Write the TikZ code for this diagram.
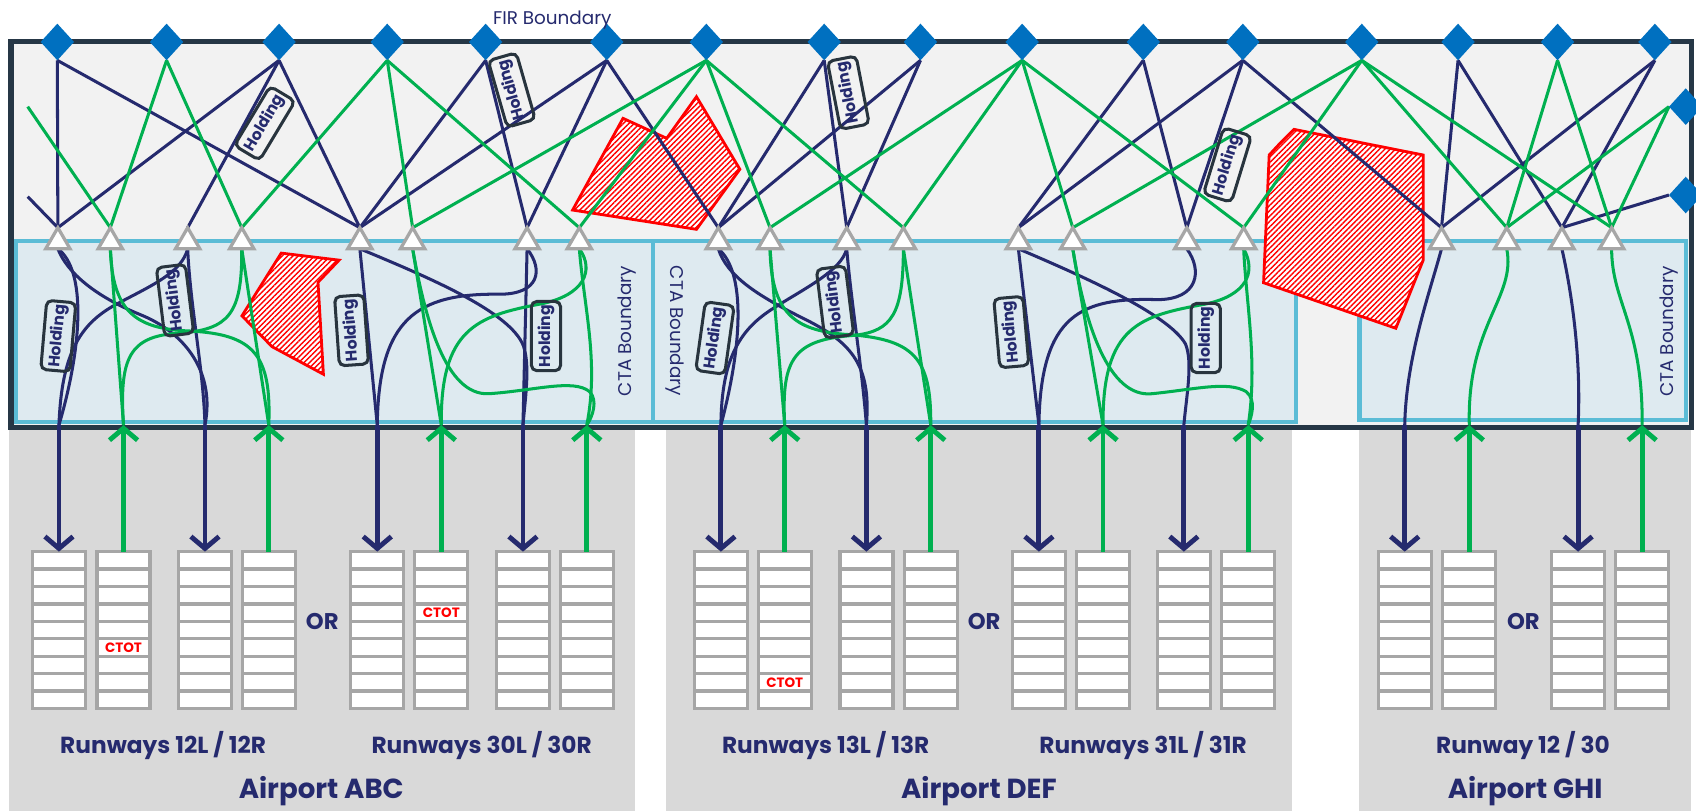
\documentclass[tikz,border=0pt]{standalone}
\usepackage{fontspec}
\setmainfont{Poppins}
\usetikzlibrary{shapes.geometric, arrows.meta, patterns.meta}
\definecolor{navy}{RGB}{37,42,110}
\definecolor{depgreen}{RGB}{0,176,80}
\definecolor{entryblue}{RGB}{0,112,192}
\definecolor{firfill}{RGB}{242,242,242}
\definecolor{firedge}{RGB}{38,55,70}
\definecolor{ctafill}{RGB}{222,234,240}
\definecolor{ctaedge}{RGB}{91,188,214}
\definecolor{panel}{RGB}{217,217,217}
\definecolor{qgray}{RGB}{166,166,166}
\definecolor{boxdark}{RGB}{40,52,62}
\begin{document}
\begin{tikzpicture}[x=1pt,y=-1pt,
  arrline/.style={draw=navy, line width=2.8pt},
  depline/.style={draw=depgreen, line width=2.8pt},
  entry/.style={diamond, fill=entryblue, minimum width=31pt, minimum height=34pt, inner sep=0pt},
  iaf/.style={regular polygon, regular polygon sides=3, minimum size=26pt, inner sep=0pt, draw=qgray, fill=white, line width=3pt},
  holdbox/.style={draw=boxdark, line width=2.8pt, rounded corners=5pt, minimum width=64pt, minimum height=27pt, inner sep=0pt, text=navy, font=\fontsize{14.5}{14.5}\selectfont\bfseries},
  queue/.style={rectangle, draw=qgray, fill=white, line width=3pt, minimum width=49pt, minimum height=145pt, inner sep=0pt, outer sep=0pt},
  arrN/.style={draw=navy, line width=4.5pt, -{Straight Barb[length=11pt, width=26pt]}},
  arrG/.style={draw=depgreen, line width=4.5pt, -{Straight Barb[length=11pt, width=26pt]}},
  hatch/.style={draw=red, line width=2.6pt, line join=miter, pattern={Lines[angle=45, distance=3.5pt, line width=1.3pt]}, pattern color=red},
  ctabox/.style={draw=ctaedge, line width=4pt, fill=ctafill},
  lbl/.style={text=navy, inner sep=0pt},
  rwy/.style={lbl, anchor=base, font=\fontsize{21.5}{21.5}\selectfont\bfseries},
  apt/.style={lbl, anchor=base, font=\fontsize{25.5}{25.5}\selectfont\bfseries},
  ortext/.style={lbl, font=\fontsize{21}{21}\selectfont\bfseries},
  ctalbl/.style={lbl, font=\fontsize{17}{17}\selectfont},
  ctot/.style={text=red, inner sep=0pt, font=\fontsize{12.5}{12.5}\selectfont\bfseries}
]
\useasboundingbox (0,0) rectangle (1568,750);
\fill[white] (0,0) rectangle (1568,750);

% airport panels
\fill[panel] (8,395) rectangle (587,750);
\fill[panel] (616,395) rectangle (1194.5,750);
\fill[panel] (1256.5,395) rectangle (1563,750);

% FIR and CTAs
\draw[firedge, line width=5pt, fill=firfill] (10,38.5) rectangle (1564,395);
\draw[ctabox] (14.5,223) rectangle (603.5,390);
\draw[ctabox] (603.5,223) rectangle (1198,390);
\draw[ctabox] (1257,223) rectangle (1559,388);

% restricted areas
\fill[white] (260,234) -- (313.5,240.5) -- (294,261) -- (299,346) -- (251.5,320.5) -- (223.7,292) -- cycle;
\draw[hatch] (260,234) -- (313.5,240.5) -- (294,261) -- (299,346) -- (251.5,320.5) -- (223.7,292) -- cycle;
\fill[white] (576,109.4) -- (616.4,127.9) -- (643.9,89.4) -- (684,156.5) -- (643.9,212) -- (529.4,194.2) -- cycle;
\draw[hatch] (576,109.4) -- (616.4,127.9) -- (643.9,89.4) -- (684,156.5) -- (643.9,212) -- (529.4,194.2) -- cycle;
\fill[white] (1196.3,119.6) -- (1315.8,143.3) -- (1315.8,240.4) -- (1290.5,303.5) -- (1168.2,261.4) -- (1173.4,143.3) -- (1182,134) -- cycle;
\draw[hatch] (1196.3,119.6) -- (1315.8,143.3) -- (1315.8,240.4) -- (1290.5,303.5) -- (1168.2,261.4) -- (1173.4,143.3) -- (1182,134) -- cycle;

% entry/exit points
\foreach \n/\x in {1/53, 2/154, 3/258, 4/358, 5/449, 6/561, 7/653, 8/762, 9/851, 10/945, 11/1057, 12/1149, 13/1259, 14/1348, 15/1440, 16/1530}
  \coordinate (D\n) at (\x,55.8);
\coordinate (R1) at (1543,98.6);
\coordinate (R2) at (1543,180.3);
\coordinate (L1) at (25.6,181.8);
\coordinate (L2) at (25.6,98.6);

% IAF triangles (positions)
\foreach \n/\x in {1/53.5, 2/102, 3/173.5, 4/223.5, 5/332.7, 6/381.5, 7/487.3, 8/535.6, 9/664.1, 10/711.9, 11/782.8, 12/835.2, 13/941.5, 14/991.8, 15/1097.2, 16/1149.8, 17/1332.7, 18/1393, 19/1444, 20/1490}
  \coordinate (T\n) at (\x,223.5);
\foreach \n in {1,...,20} {
  \coordinate (TA\n) at ([yshift=13pt]T\n);
  \coordinate (TB\n) at ([yshift=-6.5pt]T\n);
}

% stack centres and arrow ends
\foreach \n/\x in {1/54.5, 2/114.2, 3/189.5, 4/248.5, 5/348.8, 6/408, 7/483.5, 8/542.5, 9/666.5, 10/725.5, 11/801, 12/860.5, 13/960.5, 14/1019.8, 15/1094.5, 16/1154, 17/1298.7, 18/1358.4, 19/1459, 20/1518.2}
  \coordinate (B\n) at (\x,393);

% upper network: arrivals
\foreach \a/\b in {D1/TA1, D1/TA5, L1/TA1, D3/TA1, D3/TA3, D3/TA5, D5/TA5, D5/TA7, D6/TA5, D6/TA7, D6/TA9, D8/TA9, D8/TA11, D9/TA9, D9/TA11, D11/TA13, D11/TA15, D12/TA13, D12/TA15, D12/TA17, D14/TA17, D14/TA19, D16/TA17, D16/TA19, R2/TA19}
  \draw[arrline] (\a) -- (\b);
% upper network: departures
\foreach \a/\b in {L2/TA2, D2/TA2, D2/TA4, D4/TA4, D4/TA6, D4/TA8, D7/TA6, D7/TA8, D7/TA10, D7/TA12, D10/TA10, D10/TA12, D10/TA14, D10/TA16, D13/TA14, D13/TA16, D13/TA18, D13/TA20, D15/TA18, D15/TA20, R1/TA18, R1/TA20}
  \draw[depline] (\a) -- (\b);

% ---- CTA ABC, runways 12
\draw[arrline] (TB1) .. controls (80,250) and (76,320) .. (B1);
\draw[arrline] (TB1) .. controls (62,252) and (88,274) .. (130,291) .. controls (172,308) and (199,345) .. (B3);
\draw[arrline] (TB3) .. controls (168,252) and (140,264) .. (110,280) .. controls (75,298) and (57,325) .. (B1);
\draw[arrline] (TB3) .. controls (176,285) and (188,340) .. (B3);
\draw[depline] (B2) -- (TB2);
\draw[depline] (TB2) .. controls (104,288) and (125,304) .. (175,306) .. controls (235,309) and (251,328) .. (B4);
\draw[depline] (B2) .. controls (110,330) and (120,311) .. (165,308) .. controls (212,305) and (224,290) .. (TB4);
\draw[depline] (B4) -- (TB4);
% ---- CTA ABC, runways 30
\draw[arrline] (TB5) -- (B5);
\draw[arrline] (TB5) .. controls (395,256) and (472,288) .. (484,320) .. controls (490,338) and (486,365) .. (B7);
\draw[arrline] (TB7) .. controls (503,250) and (498,272) .. (462,272) .. controls (385,271) and (350,295) .. (B5);
\draw[arrline] (TB7) -- (B7);
\draw[depline] (TB6) -- (B6);
\draw[depline] (TB6) .. controls (393,295) and (412,366) .. (452,364) .. controls (495,361) and (530,350) .. (545,362) .. controls (553,370) and (548,385) .. (B8);
\draw[depline] (TB8) .. controls (550,250) and (540,273) .. (500,281) .. controls (440,292) and (407,305) .. (B6);
\draw[depline] (TB8) .. controls (540,285) and (554,335) .. (B8);
% ---- CTA DEF, runways 13
\draw[arrline] (TB9) .. controls (690,252) and (686,320) .. (B9);
\draw[arrline] (TB9) .. controls (672,255) and (700,273) .. (740,293) .. controls (785,315) and (806,335) .. (B11);
\draw[arrline] (TB11) .. controls (778,250) and (745,266) .. (715,285) .. controls (685,304) and (667,330) .. (B9);
\draw[arrline] (TB11) .. controls (787,280) and (797,340) .. (B11);
\draw[depline] (B10) -- (TB10);
\draw[depline] (TB10) .. controls (713,290) and (735,305) .. (780,309) .. controls (845,313) and (861,330) .. (B12);
\draw[depline] (B10) .. controls (722,330) and (735,314) .. (790,310) .. controls (825,306) and (835,290) .. (TB12);
\draw[depline] (B12) -- (TB12);
% ---- CTA DEF, runways 31
\draw[arrline] (TB13) -- (B13);
\draw[arrline] (TB13) .. controls (1000,255) and (1080,290) .. (1096,318) .. controls (1103,335) and (1097,365) .. (B15);
\draw[arrline] (TB15) .. controls (1112,250) and (1108,277) .. (1070,277) .. controls (1000,275) and (962,290) .. (B13);
\draw[depline] (TB14) -- (B14);
\draw[depline] (TB14) .. controls (1003,300) and (1025,368) .. (1065,364) .. controls (1105,360) and (1135,352) .. (1152,362) .. controls (1162,370) and (1157,385) .. (B16);
\draw[depline] (TB16) .. controls (1162,252) and (1152,273) .. (1115,281) .. controls (1055,292) and (1019,300) .. (B14);
\draw[depline] (TB16) .. controls (1152,280) and (1163,335) .. (B16);
% ---- CTA GHI
\draw[arrline] (TB17) .. controls (1322,270) and (1300,330) .. (B17);
\draw[depline] (B18) .. controls (1356,300) and (1402,275) .. (TB18);
\draw[arrline] (TB19) .. controls (1453,270) and (1462,330) .. (B19);
\draw[depline] (B20) .. controls (1519,300) and (1490,280) .. (TB20);

% holding boxes
\node[holdbox, rotate=59] (H1) at (244.8,114) {Holding};
\node[holdbox, rotate=106] (H2) at (473.1,83.2) {Holding};
\node[holdbox, rotate=85] (H3) at (53.9,310.7) {Holding};
\node[holdbox, rotate=97] (H4) at (161.8,277.7) {Holding};
\node[holdbox, rotate=94] (H5) at (325,305.4) {Holding};
\node[holdbox, rotate=90] (H6) at (504.8,310.7) {Holding};
\node[holdbox, rotate=101] (H7) at (784.3,85.7) {Holding};
\node[holdbox, rotate=82] (H8) at (661,312.5) {Holding};
\node[holdbox, rotate=97] (H9) at (772,279.2) {Holding};
\node[holdbox, rotate=95] (H10) at (935,307) {Holding};
\node[holdbox, rotate=73] (H11) at (1134.8,152.5) {Holding};
\node[holdbox, rotate=90] (H12) at (1114.8,312.5) {Holding};

% symbols on top
\foreach \n/\x in {1/53, 2/154, 3/258, 4/358, 5/449, 6/561, 7/653, 8/762, 9/851, 10/945, 11/1057, 12/1149, 13/1259, 14/1348, 15/1440, 16/1530}
  \node[entry] (DS\n) at (\x,38.8) {};
\node[entry] (RS1) at (1558.5,98.6) {};
\node[entry] (RS2) at (1558.5,180.3) {};
\foreach \n in {1,...,20}
  \node[iaf] (TS\n) at (T\n) {};

% CTA labels
\node[ctalbl, rotate=90] (cta1) at (580,306) {CTA Boundary};
\node[ctalbl, rotate=-90] (cta2) at (623.7,306) {CTA Boundary};
\node[ctalbl, rotate=90] (cta3) at (1543,306.6) {CTA Boundary};
\node[lbl, anchor=base, font=\fontsize{17}{17}\selectfont] (fir) at (510.6,23) {FIR Boundary};

% stacks
\foreach \n/\x in {1/54.5, 2/114.2, 3/189.5, 4/248.5, 5/348.8, 6/408, 7/483.5, 8/542.5, 9/666.5, 10/725.5, 11/801, 12/860.5, 13/960.5, 14/1019.8, 15/1094.5, 16/1154, 17/1298.7, 18/1358.4, 19/1459, 20/1518.2} {
  \node[queue] (S\n) at (\x,582.5) {};
  \foreach \k in {1,...,8}
    \draw[qgray, line width=3pt] ([yshift=-\k*16.111pt]S\n.north west) -- ([yshift=-\k*16.111pt]S\n.north east);
}

% arrows to and from stacks
\foreach \n in {1,3,5,7,9,11,13,15,17,19}
  \draw[arrN] (B\n) -- (S\n.north);
\foreach \n in {2,4,6,8,10,12,14,16,18,20}
  \draw[arrG] (S\n.north) -- (B\n);

% CTOT marks
\node[ctot] (ct1) at (114.2,598.6) {CTOT};
\node[ctot] (ct2) at (408,566.4) {CTOT};
\node[ctot] (ct3) at (725.5,630.8) {CTOT};

% OR labels
\node[ortext] (or1) at (298,575) {OR};
\node[ortext] (or2) at (909.8,575) {OR};
\node[ortext] (or3) at (1408.4,575) {OR};

% runway and airport labels
\node[rwy] (rw1) at (150.8,696.5) {Runways 12L / 12R};
\node[rwy] (rw2) at (445.3,696.5) {Runways 30L / 30R};
\node[rwy] (rw3) at (763.4,696.5) {Runways 13L / 13R};
\node[rwy] (rw4) at (1056.8,696.5) {Runways 31L / 31R};
\node[rwy] (rw5) at (1408,696.5) {Runway 12 / 30};
\node[apt] (ap1) at (297,738) {Airport ABC};
\node[apt] (ap2) at (905,738) {Airport DEF};
\node[apt] (ap3) at (1410,738) {Airport GHI};
\end{tikzpicture}
\end{document}
